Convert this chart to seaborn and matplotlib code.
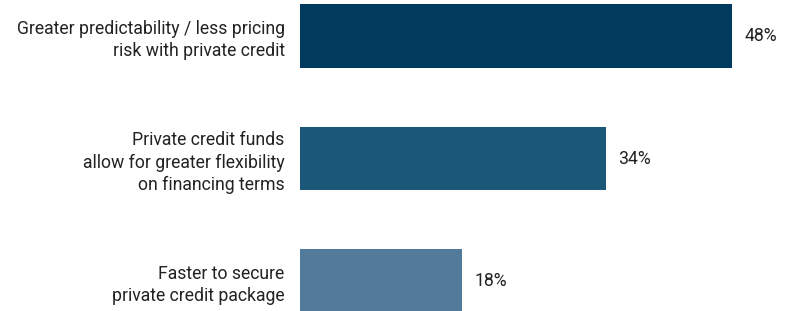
"""
plot.py
-------
Horizontal bar chart: reasons for choosing private credit.
Saves out.png (798x311).
"""

import matplotlib
matplotlib.use("Agg")  # no display
import matplotlib.pyplot as plt
import pandas as pd
import seaborn as sns

categories = [
    "Greater predictability / less pricing\nrisk with private credit",
    "Private credit funds\nallow for greater flexibility\non financing terms",
    "Faster to secure\nprivate credit package",
]
values = [48, 34, 18]
colors = ["#003a5d", "#1a5779", "#527a9a"]

TEXT_COLOR = "#222222"
FONT_SIZE = 12.7


def main():
    sns.set_theme(style="white")
    plt.rcParams["font.family"] = ["Roboto", "DejaVu Sans"]

    df = pd.DataFrame({"category": categories, "value": values})

    fig = plt.figure(figsize=(7.98, 3.11), dpi=100)
    ax = fig.add_axes([300 / 798, 0, 495 / 798, 1])

    sns.barplot(data=df, x="value", y="category", hue="category",
                palette=colors, orient="h", width=0.522, legend=False,
                saturation=1, linewidth=0, ax=ax)

    ax.set_xlim(0, 55)
    ax.set_ylim(2.245, -0.294)
    ax.set_xlabel("")
    ax.set_ylabel("")
    ax.set_xticks([])
    ax.tick_params(axis="y", length=0, pad=11, labelsize=FONT_SIZE, labelcolor=TEXT_COLOR)
    for lbl in ax.get_yticklabels():
        lbl.set_horizontalalignment("right")
        lbl.set_multialignment("right")
        lbl.set_linespacing(1.3)
    sns.despine(ax=ax, left=True, bottom=True)

    for container in ax.containers:
        ax.bar_label(container, labels=[f"{v:.0f}%" for v in container.datavalues],
                     padding=9, fontsize=FONT_SIZE, color=TEXT_COLOR)

    fig.savefig("out.png", dpi=100)
    plt.close(fig)


if __name__ == "__main__":
    main()
